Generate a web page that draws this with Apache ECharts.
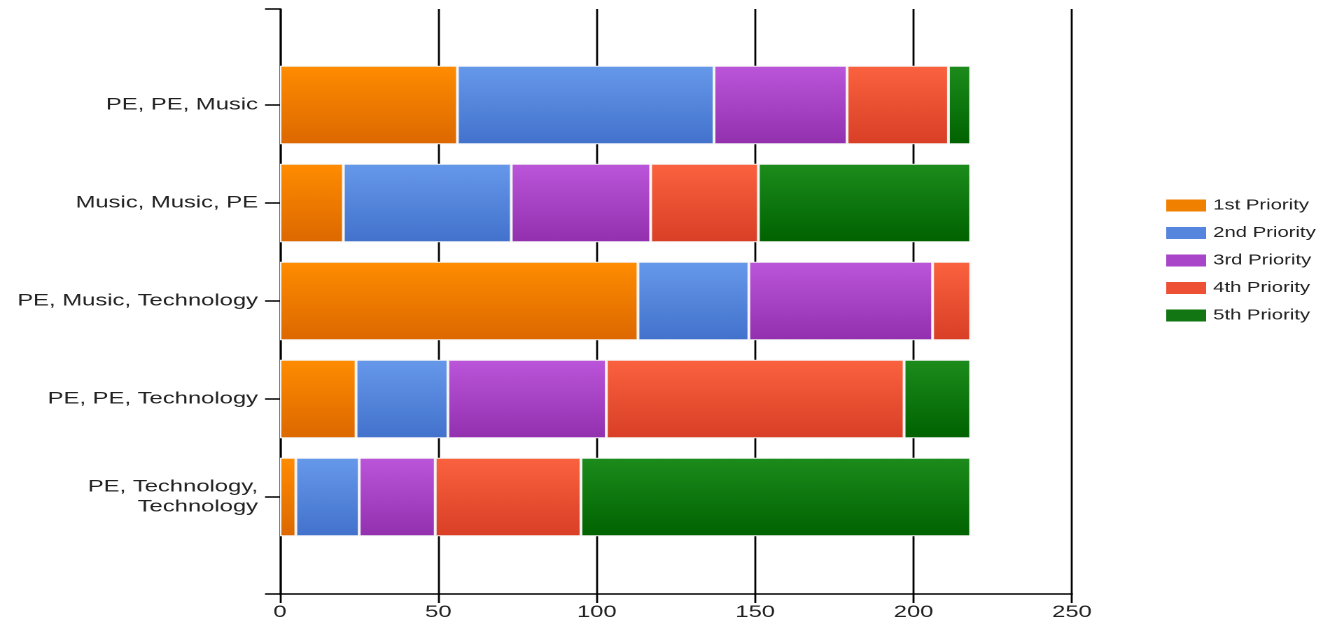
<!DOCTYPE html>
<html><head><meta charset="utf-8">
<script src="https://cdn.jsdelivr.net/npm/echarts@6/dist/echarts.min.js"></script>
<style>
html,body{margin:0;padding:0;background:#fff;overflow:hidden}
#wrap{width:1337px;height:626px;overflow:hidden}
#c{width:955px;height:626px;transform:scaleX(1.4);transform-origin:0 0}
</style>
</head><body><div id="wrap"><div id="c"></div></div>
<script>
const categories = ['PE, PE, Music', 'Music, Music, PE', 'PE, Music, Technology', 'PE, PE, Technology', 'PE, Technology, Technology'];
const seriesNames = ['1st Priority', '2nd Priority', '3rd Priority', '4th Priority', '5th Priority'];
const first  = [56, 20, 113, 24, 5];
const second = [81, 53, 35, 29, 20];
const third  = [42, 44, 58, 50, 24];
const fourth = [32, 34, 12, 94, 46];
const fifth  = [7, 67, 0, 21, 123];
const xTicks = [0, 50, 100, 150, 200, 250];

const values = [first, second, third, fourth, fifth];
const grads = [['#ff8c00', '#dc6800'], ['#6698ea', '#4272cc'], ['#bb55da', '#9230ae'], ['#fa623f', '#d83f26'], ['#1c8c1c', '#006200']];
const legendColors = ['#f08000', '#5585dd', '#a845c8', '#ee5035', '#127612'];

const chart = echarts.init(document.getElementById('c'), null, { devicePixelRatio: 2 });
const font = 'Liberation Sans, Arial, sans-serif';
chart.setOption({
  animation: false,
  textStyle: { fontFamily: font },
  legend: {
    orient: 'vertical', left: 828, top: 193,
    itemWidth: 28.5, itemHeight: 12, itemGap: 12.5,
    icon: 'rect',
    textStyle: { fontSize: 14.5, color: '#222', fontFamily: font },
    data: seriesNames.map((n, i) => ({ name: n, itemStyle: { color: legendColors[i], borderWidth: 0 } }))
  },
  grid: [
    { left: 200, right: 189.3, top: 9, bottom: 32 },
    { left: 200, right: 189.3, top: 56, bottom: 80 }
  ],
  xAxis: [
    { type: 'value', gridIndex: 0, min: xTicks[0], max: xTicks[xTicks.length - 1], interval: 50,
      axisLine: { show: true, lineStyle: { color: '#000', width: 1.5 } },
      axisTick: { show: true, length: 9, lineStyle: { color: '#000', width: 1.4 } },
      splitLine: { show: true, lineStyle: { color: '#000', width: 1.4 } },
      axisLabel: { fontSize: 17, color: '#222', margin: 10 } },
    { type: 'value', gridIndex: 1, min: 0, max: 250, show: false }
  ],
  yAxis: [
    { type: 'value', gridIndex: 0, min: 0, max: 1, interval: 1,
      axisLine: { show: true, lineStyle: { color: '#000', width: 1.4 } },
      axisTick: { show: true, length: 10.7, lineStyle: { color: '#000', width: 1.5 } },
      axisLabel: { show: false }, splitLine: { show: false } },
    { type: 'category', gridIndex: 1, data: categories, inverse: true,
      axisLine: { show: false },
      axisTick: { show: true, alignWithLabel: true, length: 10.7, lineStyle: { color: '#000', width: 1.5 } },
      axisLabel: { fontSize: 17, color: '#222', margin: 15.7, lineHeight: 20,
        formatter: v => v.length > 24 ? v.replace(/, (?=[^,]*$)/, ',\n') : v } }
  ],
  series: seriesNames.map((n, i) => ({
    name: n, type: 'bar', stack: 'total', xAxisIndex: 1, yAxisIndex: 1,
    barCategoryGap: '20%',
    data: values[i],
    itemStyle: {
      color: new echarts.graphic.LinearGradient(0, 0, 0, 1, [
        { offset: 0, color: grads[i][0] }, { offset: 1, color: grads[i][1] }]),
      borderColor: '#f4f4f4', borderWidth: 1
    }
  }))
});
</script></body></html>
